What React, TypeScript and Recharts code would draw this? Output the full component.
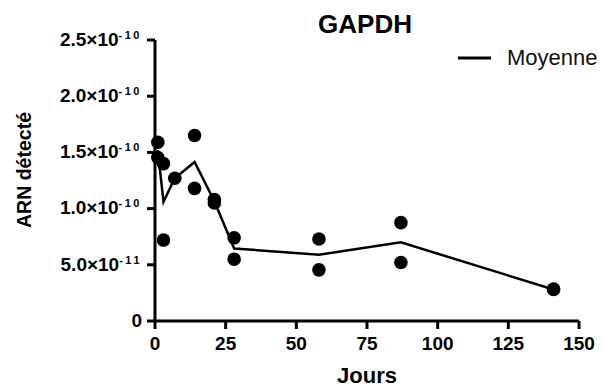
import { Scatter, ScatterChart, XAxis, YAxis } from "recharts";

// observed values (jours / ARN détecté)
const pointDays = [1, 1, 3, 3, 7, 14, 14, 21, 21, 28, 28, 58, 58, 87, 87, 141, 141];
const pointArn = [
  1.59e-10, 1.455e-10, 1.4e-10, 0.72e-10, 1.27e-10, 1.65e-10, 1.18e-10, 1.08e-10, 1.05e-10,
  0.74e-10, 0.55e-10, 0.73e-10, 0.455e-10, 0.875e-10, 0.52e-10, 0.285e-10, 0.28e-10,
];

// mean curve
const meanDays = [1, 3, 7, 14, 21, 28, 58, 87, 141];
const meanArn = [1.52e-10, 1.06e-10, 1.27e-10, 1.415e-10, 1.065e-10, 0.645e-10, 0.59e-10, 0.7e-10, 0.28e-10];

const xTicks = [0, 25, 50, 75, 100, 125, 150];
const yTicks = [0, 5e-11, 1e-10, 1.5e-10, 2e-10, 2.5e-10];
const yTickMantissa = ["0", "5.0", "1.0", "1.5", "2.0", "2.5"];
const yTickExponent = ["", "-11", "-10", "-10", "-10", "-10"];

const points = pointDays.map((d, i) => ({ jours: d, arn: pointArn[i] }));
const means = meanDays.map((d, i) => ({ jours: d, arn: meanArn[i] }));

const FONT = "'Liberation Sans', Arial, sans-serif";

function YTick(props: any) {
  const { x, y, index } = props;
  const exp = yTickExponent[index];
  return (
    <text x={x} y={y} dy="0.36em" textAnchor="end" fontFamily={FONT} fontWeight="bold" fill="#000">
      <tspan fontSize={19}>{exp ? `${yTickMantissa[index]}×10` : yTickMantissa[index]}</tspan>
      {exp && (
        <tspan fontSize={11} dy={-7} letterSpacing={2.5}>
          {exp}
        </tspan>
      )}
    </text>
  );
}

function Dot(props: any) {
  return <circle cx={props.cx} cy={props.cy} r={6.8} fill="#000" />;
}

export default function App() {
  return (
    <div style={{ position: "absolute", left: 0, top: 0, width: 603, height: 389, background: "#fff" }}>
      <div
        style={{
          position: "absolute",
          top: 11,
          left: 0,
          width: 730,
          textAlign: "center",
          fontFamily: FONT,
          fontWeight: "bold",
          fontSize: 26,
          lineHeight: "26px",
        }}
      >
        GAPDH
      </div>
      <div
        style={{
          position: "absolute",
          top: 46,
          left: 458,
          display: "flex",
          alignItems: "center",
          fontFamily: FONT,
          fontSize: 22,
          lineHeight: "24px",
          color: "#111",
        }}
      >
        <svg width={33} height={4} style={{ marginRight: 16 }}>
          <line x1={0} y1={2} x2={33} y2={2} stroke="#000" strokeWidth={3} />
        </svg>
        <span>Moyenne</span>
      </div>
      <ScatterChart width={603} height={389} margin={{ top: 40, right: 24, bottom: 0, left: 0 }}>
        <XAxis
          type="number"
          dataKey="jours"
          domain={[0, 150]}
          ticks={xTicks}
          height={68}
          axisLine={{ stroke: "#000", strokeWidth: 3 }}
          tickLine={{ stroke: "#000", strokeWidth: 3 }}
          tickSize={8}
          tickMargin={8}
          tick={{ fontSize: 19, fontWeight: "bold", fill: "#000", fontFamily: FONT }}
          label={{
            value: "Jours",
            position: "insideBottom",
            offset: 6,
            fontSize: 22,
            fontWeight: "bold",
            fill: "#000",
            fontFamily: FONT,
          }}
        />
        <YAxis
          type="number"
          dataKey="arn"
          domain={[0, 2.5e-10]}
          ticks={yTicks}
          width={155}
          axisLine={{ stroke: "#000", strokeWidth: 3 }}
          tickLine={{ stroke: "#000", strokeWidth: 3 }}
          tickSize={8}
          tickMargin={5}
          tick={<YTick />}
          label={{
            content: () => (
              <text
                x={31}
                y={170}
                transform="rotate(-90 31 170)"
                textAnchor="middle"
                fontSize={19.5}
                fontWeight="bold"
                fontFamily={FONT}
                fill="#000"
              >
                ARN détecté
              </text>
            ),
          }}
        />
        <Scatter
          name="Moyenne"
          data={means}
          line={{ stroke: "#000", strokeWidth: 2.5 }}
          lineType="joint"
          shape={() => <g />}
          isAnimationActive={false}
        />
        <Scatter name="points" data={points} shape={<Dot />} legendType="none" isAnimationActive={false} />
      </ScatterChart>
    </div>
  );
}
